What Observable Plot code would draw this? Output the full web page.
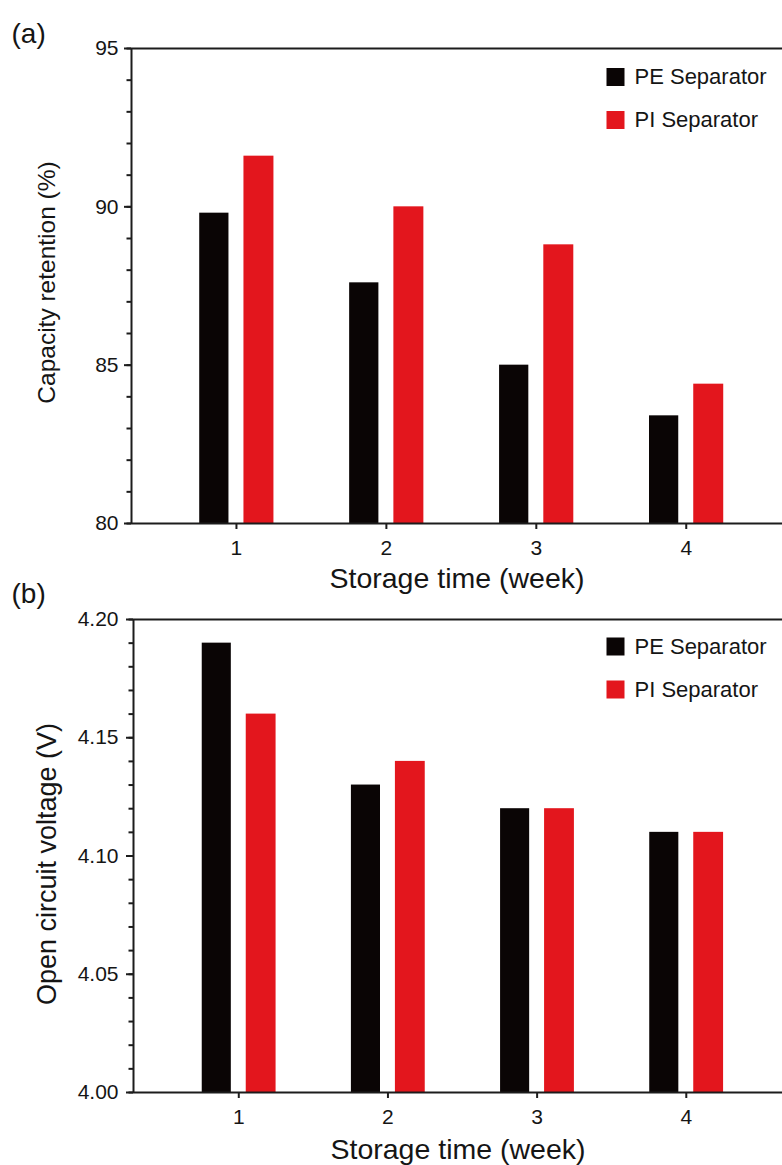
<!DOCTYPE html>
<html>
<head>
<meta charset="utf-8">
<script src="https://cdn.jsdelivr.net/npm/d3@7"></script>
<script src="https://cdn.jsdelivr.net/npm/@observablehq/plot@0.6"></script>
<style>
  html, body { margin: 0; padding: 0; background: #fff; }
  #chart { width: 782px; }
  #chart svg { display: block; overflow: visible; }
</style>
</head>
<body>
<div id="chart"></div>
<script>
// ---- data ----
const weeks = [1, 2, 3, 4];
const seriesNames = ["PE Separator", "PI Separator"];
const retentionPE = [89.8, 87.6, 85.0, 83.4];
const retentionPI = [91.6, 90.0, 88.8, 84.4];
const voltagePE = [4.19, 4.13, 4.12, 4.11];
const voltagePI = [4.16, 4.14, 4.12, 4.11];
const retentionTicks = [80, 85, 90, 95];
const voltageTicks = [4.00, 4.05, 4.10, 4.15, 4.20];
const xLabel = "Storage time (week)";

// ---- styles ----
const colors = ["#0a0505", "#e3161d"];
const axisColor = "#1c1c1c";
const textColor = "#151515";
const sans = "'Liberation Sans', Arial, Helvetica, sans-serif";
const barOffsets = [[-0.245, -0.05], [0.05, 0.25]];

function panel(cfg) {
  const data = weeks.flatMap((w, i) => [
    {week: w, series: seriesNames[0], s: 0, value: cfg.pe[i]},
    {week: w, series: seriesNames[1], s: 1, value: cfg.pi[i]}
  ]);
  const [y0, y1] = cfg.yDomain;
  const minor = d3.ticks(y0, y1, cfg.minorCount);
  const marks = [
    Plot.rectY(data, {
      x1: d => d.week + barOffsets[d.s][0],
      x2: d => d.week + barOffsets[d.s][1],
      y1: y0, y2: "value",
      fill: "series"
    }),
    Plot.axisY({ticks: minor, tickSize: 4.5, tickFormat: () => "", stroke: axisColor, strokeWidth: 2, label: null}),
    Plot.axisY({ticks: cfg.majorTicks, tickSize: 7, tickPadding: cfg.yTickPadding, tickFormat: cfg.fmt,
      stroke: axisColor, strokeWidth: 2, label: null, fontSize: 21, fontFamily: sans, fill: textColor}),
    Plot.axisX({ticks: weeks, tickSize: 6, tickPadding: 11, tickFormat: d => String(d),
      stroke: axisColor, strokeWidth: 2, label: null, fontSize: 21, fontFamily: sans, fill: textColor}),
    Plot.ruleY([y0], {stroke: axisColor, strokeWidth: 2}),
    Plot.ruleY([y1], {stroke: axisColor, strokeWidth: 2}),
    Plot.ruleX([cfg.xDomain[0]], {stroke: axisColor, strokeWidth: 2}),
    Plot.text([cfg.tag], {text: d => d, frameAnchor: "top-left", dx: 11 - cfg.marginLeft, dy: cfg.tagDy,
      textAnchor: "start", lineAnchor: "bottom", fontSize: 28, fontFamily: sans, fill: textColor}),
    Plot.text([xLabel], {text: d => d, frameAnchor: "bottom", dy: cfg.xLabelDy,
      textAnchor: "middle", lineAnchor: "bottom", fontSize: 28.5, fontFamily: sans, fill: textColor}),
    Plot.text([cfg.yLabel], {text: d => d, frameAnchor: "left", dx: 47 - cfg.marginLeft, dy: cfg.yLabelDy,
      rotate: -90, textAnchor: "middle", lineAnchor: "middle", fontSize: cfg.yLabelSize, fontFamily: sans, fill: textColor})
  ];
  seriesNames.forEach((name, i) => {
    marks.push(Plot.dot([name], {frameAnchor: "top-left", dx: 615 - cfg.marginLeft, dy: cfg.legendDy + i * 43,
      symbol: "square", r: 10.16, fill: colors[i], stroke: null}));
    marks.push(Plot.text([name], {text: d => d, frameAnchor: "top-left", dx: 634 - cfg.marginLeft, dy: cfg.legendDy + i * 43,
      textAnchor: "start", lineAnchor: "middle", fontSize: 22, fontFamily: sans, fill: textColor}));
  });
  return Plot.plot({
    width: 782,
    height: cfg.height,
    marginTop: cfg.marginTop,
    marginBottom: cfg.marginBottom,
    marginLeft: cfg.marginLeft,
    marginRight: 0,
    style: {fontFamily: sans, background: "#fff", overflow: "visible"},
    x: {type: "linear", domain: cfg.xDomain},
    y: {domain: cfg.yDomain},
    color: {domain: seriesNames, range: colors},
    marks
  });
}

const chart = document.getElementById("chart");
chart.append(panel({
  tag: "(a)", pe: retentionPE, pi: retentionPI, yDomain: [80, 95], majorTicks: retentionTicks,
  minorCount: 15, fmt: d => String(d), yLabel: "Capacity retention (%)", yLabelSize: 24.5, yLabelDy: -3.5,
  height: 582, marginTop: 48, marginBottom: 59, marginLeft: 131, xDomain: [0.3, 4.642],
  tagDy: -6, xLabelDy: 64, legendDy: 28.5, yTickPadding: 6
}));
chart.append(panel({
  tag: "(b)", pe: voltagePE, pi: voltagePI, yDomain: [4.0, 4.2], majorTicks: voltageTicks,
  minorCount: 20, fmt: d3.format(".2f"), yLabel: "Open circuit voltage (V)", yLabelSize: 27, yLabelDy: 8,
  height: 583, marginTop: 37, marginBottom: 73, marginLeft: 133, xDomain: [0.2942, 4.645],
  tagDy: -17, xLabelDy: 66, legendDy: 27, yTickPadding: 8
}));
</script>
</body>
</html>
